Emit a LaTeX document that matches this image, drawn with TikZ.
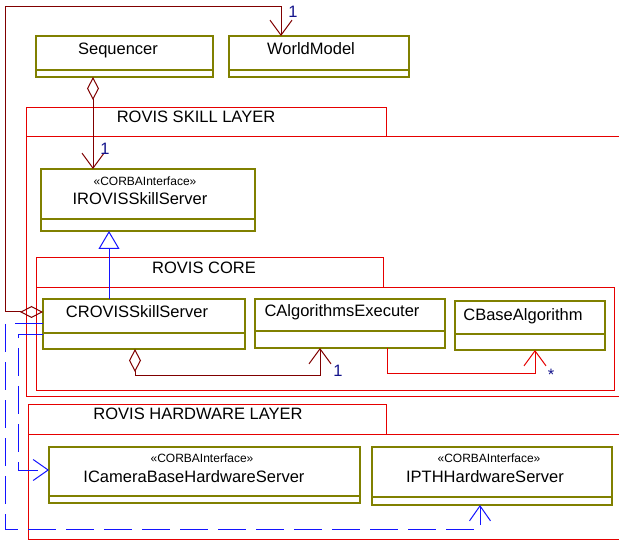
\documentclass[tikz,border=0pt]{standalone}
\usepackage{fontspec}
\setmainfont{Liberation Sans}
\usetikzlibrary{arrows.meta}

\definecolor{boxolive}{RGB}{128,128,0}
\definecolor{pkgred}{RGB}{230,0,0}
\definecolor{assocred}{RGB}{128,0,0}
\definecolor{depblue}{RGB}{20,20,255}
\definecolor{multblue}{RGB}{20,20,140}

\tikzset{
  umlclass/.style={draw=boxolive, line width=1.1pt, fill=white, rectangle,
    anchor=north west, inner sep=0pt, outer sep=0pt},
  umlrule/.style={draw=boxolive, line width=1.1pt},
  pkg/.style={draw=pkgred, line width=1pt, rectangle, anchor=north west,
    inner sep=0pt, outer sep=0pt},
  nametext/.style={anchor=base, inner sep=0pt, font=\fontsize{16.5}{19}\selectfont},
  stereotext/.style={anchor=base, inner sep=0pt, font=\fontsize{12}{14}\selectfont},
  multtext/.style={anchor=base, inner sep=0pt, text=multblue,
    font=\fontsize{16.5}{19}\selectfont},
  aggr/.style={draw=assocred, line width=1pt,
    arrows={Diamond[open, length=23pt, width=12pt]-Straight Barb[length=15pt, width=22pt]}},
  assoc/.style={draw=pkgred, line width=1pt,
    arrows={-Straight Barb[length=15pt, width=22pt]}},
  gen/.style={draw=depblue, line width=1pt,
    arrows={-Triangle[open, length=18pt, width=21pt]}},
  dep/.style={draw=depblue, line width=1pt, dash pattern=on 28pt off 10pt,
    arrows={-Straight Barb[length=15pt, width=21pt]}},
}

% class box: name, x, y, width, height, y of the compartment rule
\newcommand\classbox[6]{%
  \node[umlclass, minimum width=#4pt, minimum height=#5pt] (#1) at (#2,#3) {};
  \draw[umlrule] (#1.west |- 0,#6) -- (#1.east |- 0,#6);
}

\begin{document}
\begin{tikzpicture}[x=1pt, y=-1pt]
  \path[use as bounding box, clip] (0,0) rectangle (619,540);
  \fill[white] (0,0) rectangle (619,540);

  % packages
  \node[pkg, minimum width=360pt, minimum height=29pt] (skilltab) at (26,108) {};
  \node[pkg, minimum width=610pt, minimum height=259pt] (skillbody) at (26,137) {};
  \node[nametext] (skilllabel) at (196,123) {ROVIS SKILL LAYER};

  \node[pkg, minimum width=347pt, minimum height=30pt] (coretab) at (36,258) {};
  \node[pkg, minimum width=578pt, minimum height=102pt] (corebody) at (36,288) {};
  \node[nametext] (corelabel) at (204,274) {ROVIS CORE};

  \node[pkg, minimum width=358pt, minimum height=30pt] (hwtab) at (28,404) {};
  \node[pkg, minimum width=600pt, minimum height=105pt] (hwbody) at (28,434) {};
  \node[nametext] (hwlabel) at (198,419) {ROVIS HARDWARE LAYER};

  % classes
  \classbox{seq}{36}{36}{177}{41}{70}
  \node[nametext] (seqname) at (118,55) {Sequencer};

  \classbox{world}{229}{36}{180}{41}{70}
  \node[nametext] (worldname) at (311,55) {WorldModel};

  \classbox{irovis}{41}{169}{214}{62}{219}
  \node[stereotext] (irovisst) at (145,186) {«CORBAInterface»};
  \node[nametext] (irovisname) at (140,205) {IROVISSkillServer};

  \classbox{crovis}{43}{299}{202}{50}{333}
  \node[nametext] (crovisname) at (137,318) {CROVISSkillServer};

  \classbox{calg}{255}{299}{190}{49}{331}
  \node[nametext] (calgname) at (342,317) {CAlgorithmsExecuter};

  \classbox{cbase}{455}{301}{150}{49}{334}
  \node[nametext] (cbasename) at (523,321) {CBaseAlgorithm};

  \classbox{icam}{49}{447}{311}{56}{496}
  \node[stereotext] (icamst) at (202,462) {«CORBAInterface»};
  \node[nametext] (icamname) at (194,482) {ICameraBaseHardwareServer};

  \classbox{ipth}{372}{447}{240}{58}{497}
  \node[stereotext] (ipthst) at (489,462) {«CORBAInterface»};
  \node[nametext] (ipthname) at (485,482) {IPTHHardwareServer};

  % aggregations
  \draw[aggr] (93,0 |- seq.south) -- (93,0 |- irovis.north);
  \node[multtext] (m1) at (105,155) {1};

  \draw[aggr] (crovis.west |- 0,312) -- (5,312) -- (5,7) -- (281,7) -- (281,0 |- world.north);
  \node[multtext] (m2) at (293,18) {1};

  \draw[aggr] (135,0 |- crovis.south) -- (135,375) -- (320,375) -- (320,0 |- calg.south);
  \node[multtext] (m3) at (338,376) {1};

  % association
  \draw[assoc] (387,0 |- calg.south) -- (387,373) -- (535,373) -- (535,0 |- cbase.south);
  \node[multtext] (m4) at (551,380) {*};

  % generalization
  \draw[gen] (109,0 |- crovis.north) -- (109,0 |- irovis.south);

  % dependencies
  \draw[dep] (crovis.west |- 0,324) -- (5,324) -- (5,529) -- (480,529) -- (480,0 |- ipth.south);
  \draw[dep] (crovis.west |- 0,335) -- (18,335) -- (18,470) -- (icam.west |- 0,470);
\end{tikzpicture}
\end{document}
